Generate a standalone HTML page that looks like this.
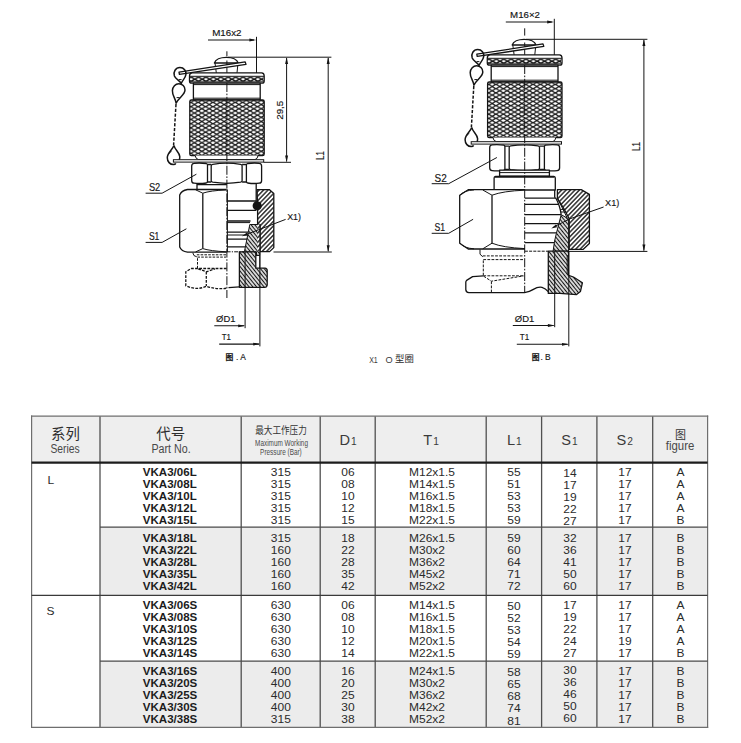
<!DOCTYPE html>
<html lang="zh"><head><meta charset="utf-8"><title>VKA3</title>
<style>
html,body{margin:0;padding:0;background:#fff;}
body{width:741px;height:743px;position:relative;overflow:hidden;font-family:"Liberation Sans","Noto Sans CJK SC",sans-serif;color:#222;}
#draw{position:absolute;left:0;top:0;width:741px;height:400px;}
#tbl{position:absolute;left:0;top:0;width:741px;height:743px;}
#tsvg{position:absolute;left:0;top:0;}
.bg,.ln{position:absolute;}
.t{position:absolute;width:200px;height:24px;line-height:24px;text-align:center;white-space:nowrap;}
.t span{display:inline-block;vertical-align:baseline;transform-origin:50% 50%;}
.t.l{text-align:left;width:120px;}
.t.l span{transform-origin:0 50%;}
.b{font-size:10.6px;color:#2b2b2b;}
.b span{transform:scaleX(1.13);}
.bold{font-weight:bold;color:#1c1c1c;}
.bold span{transform:scaleX(1.09);}
.hc{font-size:14.4px;color:#2e2e2e;font-family:"Noto Sans CJK SC","Liberation Sans",sans-serif;font-weight:400;}
.hc2{font-size:10px;color:#333;font-family:"Noto Sans CJK SC","Liberation Sans",sans-serif;}
.hc2 span{transform:scaleX(0.86);}
.hc3{font-size:11px;color:#333;font-family:"Noto Sans CJK SC","Liberation Sans",sans-serif;}
.he{font-size:12px;color:#484848;}
.he span{transform:scaleX(var(--sx,0.9));}
.hs{font-size:8.6px;color:#4a4a4a;}
.hs span{transform:scaleX(0.745);}
.hd{font-size:14.6px;color:#3a3a3a;}
.hd i{font-style:normal;font-size:10.2px;margin-left:1px;}
</style></head><body>
<svg id="draw" width="741" height="400" viewBox="0 0 741 400">
<defs>
<pattern id="kn" width="7.42" height="4.25" patternUnits="userSpaceOnUse" x="190.7" y="102.4">
<rect width="7.42" height="4.25" fill="#fff"/>
<path d="M-1,-0.573 L8.42,4.823 M-1,4.823 L8.42,-0.573" stroke="#141414" stroke-width="1.28"/>
</pattern>
<pattern id="kn2" width="7.42" height="4.25" patternUnits="userSpaceOnUse" x="194.8" y="79.2">
<rect width="7.42" height="4.25" fill="#fff"/>
<path d="M-1,-0.573 L8.42,4.823 M-1,4.823 L8.42,-0.573" stroke="#141414" stroke-width="1.4"/>
</pattern>
<pattern id="h1" width="3.2" height="3.2" patternUnits="userSpaceOnUse" patternTransform="rotate(-46)">
<rect width="3.2" height="3.2" fill="#fff"/>
<path d="M0,1.6 H3.2" stroke="#141414" stroke-width="1.3"/>
</pattern>
<pattern id="h2" width="2.9" height="2.9" patternUnits="userSpaceOnUse" patternTransform="rotate(51)">
<rect width="2.9" height="2.9" fill="#fff"/>
<path d="M0,1.45 H2.9" stroke="#141414" stroke-width="1.3"/>
</pattern>
</defs>
<style>
#draw .mn{stroke:#141414;stroke-width:1.3;fill:none;stroke-linejoin:round}
#draw .md{stroke:#141414;stroke-width:1.0;fill:none}
#draw .th{stroke:#141414;stroke-width:1.0;fill:none}
#draw .w{fill:#fff}
#draw .dm{stroke:#141414;stroke-width:1.05;fill:none}
#draw .rg{stroke:#141414;stroke-width:1.5;fill:none;stroke-linejoin:round}
#draw path[fill], #draw rect[fill]{}
#draw text{font-family:"Liberation Sans","Noto Sans CJK SC",sans-serif;fill:#151515;stroke:#151515;stroke-width:0.15}
#draw text.cj{font-family:"Liberation Sans","Noto Sans CJK SC",sans-serif}
</style>
<line x1="208" y1="40" x2="254" y2="40" class="dm"/>
<polygon points="256.3,40 249.4,38.6 249.4,41.4" fill="#141414"/>
<line x1="256.5" y1="36.8" x2="256.5" y2="76.2" class="md"/>
<path d="M214.4,63 C215.4,59.6 220.4,57.4 226.3,57.4 C232.2,57.4 237.2,59.6 238.2,63 Z" class="mn w"/>
<path d="M215,63 L216.3,72.8 M238,63 L237,72.8 M226.9,60.5 V72.8" class="md"/>
<path d="M192,72.9 H261.6 Q264.2,73.2 264.2,76 V81 Q264.2,83.2 262,83.2 H191.7 Q189.5,83.2 189.5,81 V76 Q189.5,73.2 192,72.9 Z" class="mn w"/>
<rect x="190" y="76.8" width="73.7" height="4.9" fill="url(#kn2)"/>
<path d="M189.8,76.3 H264 M189.8,81.9 H264" class="md"/>
<rect x="193.4" y="83.1" width="66.8" height="16.9" class="mn w"/>
<path d="M193.4,84.6 H260.2 M193.4,98.2 H260.2" class="md"/>
<rect x="189.8" y="100" width="74.4" height="55.6" rx="1.6" style="fill:url(#kn)" class="mn"/>
<path d="M195.2,155.6 Q195.6,159 198.5,159.6 H255 Q257.6,159 258,155.6" class="md w"/>
<rect x="173.4" y="159.7" width="90.3" height="2.4" class="md w"/>
<polygon points="179.0,72.2 245.2,61.9 246,64.4 179.4,74.4" class="mn w"/>
<path d="M181.2,83.6 C180,80.6 175.8,79.6 174.4,76 C173,72 175.6,67.5 179.9,67.5 C184,67.5 186.5,71 185.9,74.6 C185.3,78.4 182.4,80 181.2,83.6 Z" class="rg"/>
<path d="M178.8,79.6 H181.6" class="md"/>
<path d="M176.1,103.2 C175.6,98.6 172.2,95.6 172.4,90.6 C172.6,86.6 175.4,83.8 178.8,83.8 C182.3,83.8 185,86.4 185,90 C185,95 178.6,97.4 176.1,103.2 Z" class="rg"/>
<path d="M176.6,97.6 H179.6" class="md"/>
<line x1="176" y1="104" x2="173.6" y2="145" class="rg" stroke-dasharray="3.2 1.6"/>
<path d="M173.9,145.4 C172.6,150 167.3,152.4 167.3,157.8 C167.3,161.6 170,164.6 173.4,164.6 C174.6,164.6 175.4,164.2 175.8,163.4 M173.9,145.4 C175,150 179.4,152 179.8,156.6 C179.9,158 179.6,159 179.2,159.7" class="rg"/>
<path d="M169.2,153.6 C169.6,152.4 170.4,151.8 171.4,151.6" class="md"/>
<line x1="226.9" y1="51.3" x2="226.9" y2="56.4" class="md"/>
<text x="212.2" y="35.9" font-size="9" textLength="29.3" lengthAdjust="spacingAndGlyphs">M16x2</text>
<path d="M228,57.2 H331.4 M263.7,162.3 H291 M273.5,252 H331.8" class="th"/>
<line x1="286.6" y1="58" x2="286.6" y2="161.5" class="th"/>
<polygon points="286.6,57.3 285.1,64 288.1,64" fill="#141414"/><polygon points="286.6,162.2 285.1,155.5 288.1,155.5" fill="#141414"/>
<line x1="328.2" y1="58" x2="328.2" y2="251.2" class="th"/>
<polygon points="328.2,57.3 326.7,64 329.7,64" fill="#141414"/><polygon points="328.2,251.9 326.7,245.2 329.7,245.2" fill="#141414"/>
<text transform="translate(283.3,119.8) rotate(-90)" font-size="9.2" textLength="19.1" lengthAdjust="spacingAndGlyphs">29,5</text>
<text transform="translate(324.1,160) rotate(-90)" font-size="10.4" textLength="8.8" lengthAdjust="spacingAndGlyphs">L1</text>
<rect x="191.7" y="163.7" width="69.90000000000003" height="19.100000000000012" fill="#fff"/>
<path d="M191.7,166.1 Q191.7,163.5 194.1,163.29999999999998 Q199.6,162.6 206.3,163.5 Q207.5,163.9 207.5,165.1 V181.4 Q207.5,182.6 206.3,183.0 Q199.6,183.9 194.1,183.20000000000002 Q191.7,183.0 191.7,180.4 Z" class="mn w"/>
<path d="M261.6,166.1 Q261.6,163.5 259.20000000000005,163.29999999999998 Q254.0,162.6 247.6,163.5 Q246.4,163.9 246.4,165.1 V181.4 Q246.4,182.6 247.6,183.0 Q254.0,183.9 259.20000000000005,183.20000000000002 Q261.6,183.0 261.6,180.4 Z" class="mn w"/>
<path d="M211.2,165.7 Q211.2,164.7 212.7,164.29999999999998 Q226.64999999999998,162.1 240.6,164.29999999999998 Q242.1,164.7 242.1,165.7 V180.8 Q242.1,181.8 240.6,182.20000000000002 Q226.64999999999998,184.4 212.7,182.20000000000002 Q211.2,181.8 211.2,180.8 Z" class="mn w"/>
<path d="M207.5,164.5 H211.2 M207.5,182.0 H211.2 M242.1,164.5 H246.4 M242.1,182.0 H246.4" class="mn"/>
<path d="M197,183.6 V189.2 M197,184.7 H226.9 M256.2,183.6 V202" class="mn"/>
<path d="M226.6,189.5 H187.5 Q181.4,190.6 179.7,195 V247 Q181.4,251.2 187.5,252.2 H226.6" class="mn w"/>
<path d="M202.8,193.2 V248.6" class="mn"/>
<path d="M195.6,189.8 L202.8,193.2 Q210,190.6 226.6,189.9 M195.6,251.9 L202.8,248.6 Q210,251 226.6,251.8" class="md"/>
<path d="M227.4,189.4 V252" class="md"/>
<path d="M227.4,201 H256.2 M227.4,210.3 H256.2 M227.4,221 H250.5 M227.4,232.2 H248 M227.4,239.2 H247 M227.4,246.9 H245.5" class="mn"/>
<path d="M227.4,222.6 H250 M227.4,235 H247.6" class="th"/>
<path d="M257.1,189.6 H269.2 L273.8,193.6 V247.6 L269.6,251.6 H259.9 V224.5 H257.6 V210 Z" style="fill:url(#h1)" class="mn"/>
<path d="M249.8,224.5 H259.9 V255.4 H256.5 V251.8 H244.4 Z" style="fill:url(#h2)" class="md"/>
<rect x="257.6" y="224.5" width="2.3" height="27" fill="url(#h1)"/>
<circle cx="257.2" cy="205.8" r="4.6" fill="#141414"/>
<path d="M239.4,251.8 H255.8 V268.2 H265 Q267.2,268.4 267.2,270.6 V285.2 Q267,287.2 265,287.3 H239.4 Z" style="fill:url(#h2)" class="mn"/>
<path d="M255.8,255.4 H259.8 V268.2" class="md"/>
<path d="M245.1,252 V328.2 M259.9,224.5 V346.4" class="md"/>
<path d="M214.3,325.8 H244 M219.2,344.1 H259" class="dm"/>
<polygon points="245.2,325.8 238.2,324.4 238.2,327.2" fill="#141414"/><polygon points="260.2,344.1 253.2,342.7 253.2,345.5" fill="#141414"/>
<text x="216.1" y="321.5" font-size="9" textLength="19.3" lengthAdjust="spacingAndGlyphs">ØD1</text>
<text x="221.8" y="339.7" font-size="9" textLength="9.2" lengthAdjust="spacingAndGlyphs">T1</text>
<path d="M226.6,251.8 H244" class="md" stroke-dasharray="4 1.2 1.2 1.2"/>
<path d="M192.8,252.8 L194,255.6 L196.8,256.8" class="md"/>
<path d="M196.8,254.8 H226 M197.4,257.1 H226 M197.5,258.2 V268.2" class="md" stroke-dasharray="2.6 1.2"/>
<path d="M226.6,268.5 H191.2 L185.8,271.8 V285.8 Q197,290.8 206.3,286.2 Q217,289.8 226.6,288.2 M206.3,271.8 V286 M198.2,268.8 L206.3,271.8 L215,268.9" class="mn" stroke-dasharray="2.8 1.3"/>
<path d="M228.5,287.6 L239.4,286.9" class="mn"/>
<path d="M226.9,83 V298" class="md" stroke-dasharray="9 1.6 1.6 1.6"/>
<path d="M145.6,193.2 H162.1 L196.4,174.2 M145.6,242.4 H162.1 L186.4,228.8 M285.6,219.4 L246,234.6" class="md"/>
<polygon points="241.8,236.2 247,232.6 247.8,235.2" fill="#141414"/>
<text x="148.9" y="190.8" font-size="10.2" textLength="11.4" lengthAdjust="spacingAndGlyphs">S2</text>
<text x="148.9" y="240.2" font-size="10.2" textLength="10.5" lengthAdjust="spacingAndGlyphs">S1</text>
<text x="287.2" y="220.4" font-size="9.8" textLength="13.8" lengthAdjust="spacingAndGlyphs">X1)</text>
<text x="225.4" y="359.8" font-size="7.8" font-weight="bold" class="cj">图</text><text x="236" y="360" font-size="8.4">. A</text>
<g transform="translate(297.8,-18)"><line x1="208" y1="40" x2="254" y2="40" class="dm"/>
<polygon points="256.3,40 249.4,38.6 249.4,41.4" fill="#141414"/>
<line x1="256.5" y1="36.8" x2="256.5" y2="76.2" class="md"/>
<path d="M214.4,63 C215.4,59.6 220.4,57.4 226.3,57.4 C232.2,57.4 237.2,59.6 238.2,63 Z" class="mn w"/>
<path d="M215,63 L216.3,72.8 M238,63 L237,72.8 M226.9,60.5 V72.8" class="md"/>
<path d="M192,72.9 H261.6 Q264.2,73.2 264.2,76 V81 Q264.2,83.2 262,83.2 H191.7 Q189.5,83.2 189.5,81 V76 Q189.5,73.2 192,72.9 Z" class="mn w"/>
<rect x="190" y="76.8" width="73.7" height="4.9" fill="url(#kn2)"/>
<path d="M189.8,76.3 H264 M189.8,81.9 H264" class="md"/>
<rect x="193.4" y="83.1" width="66.8" height="16.9" class="mn w"/>
<path d="M193.4,84.6 H260.2 M193.4,98.2 H260.2" class="md"/>
<rect x="189.8" y="100" width="74.4" height="55.6" rx="1.6" style="fill:url(#kn)" class="mn"/>
<path d="M195.2,155.6 Q195.6,159 198.5,159.6 H255 Q257.6,159 258,155.6" class="md w"/>
<rect x="173.4" y="159.7" width="90.3" height="2.4" class="md w"/>
<polygon points="179.0,72.2 245.2,61.9 246,64.4 179.4,74.4" class="mn w"/>
<path d="M181.2,83.6 C180,80.6 175.8,79.6 174.4,76 C173,72 175.6,67.5 179.9,67.5 C184,67.5 186.5,71 185.9,74.6 C185.3,78.4 182.4,80 181.2,83.6 Z" class="rg"/>
<path d="M178.8,79.6 H181.6" class="md"/>
<path d="M176.1,103.2 C175.6,98.6 172.2,95.6 172.4,90.6 C172.6,86.6 175.4,83.8 178.8,83.8 C182.3,83.8 185,86.4 185,90 C185,95 178.6,97.4 176.1,103.2 Z" class="rg"/>
<path d="M176.6,97.6 H179.6" class="md"/>
<line x1="176" y1="104" x2="173.6" y2="145" class="rg" stroke-dasharray="3.2 1.6"/>
<path d="M173.9,145.4 C172.6,150 167.3,152.4 167.3,157.8 C167.3,161.6 170,164.6 173.4,164.6 C174.6,164.6 175.4,164.2 175.8,163.4 M173.9,145.4 C175,150 179.4,152 179.8,156.6 C179.9,158 179.6,159 179.2,159.7" class="rg"/>
<path d="M169.2,153.6 C169.6,152.4 170.4,151.8 171.4,151.6" class="md"/></g>
<line x1="524.7" y1="28.3" x2="524.7" y2="35.6" class="md"/>
<text x="510.1" y="17.8" font-size="9" textLength="29.9" lengthAdjust="spacingAndGlyphs">M16×2</text>
<path d="M526,39.3 H647.4 M568,251.4 H647.4" class="th"/>
<line x1="643.9" y1="40" x2="643.9" y2="250.6" class="th"/>
<polygon points="643.9,39.4 642.4,46.1 645.4,46.1" fill="#141414"/><polygon points="643.9,251.3 642.4,244.6 645.4,244.6" fill="#141414"/>
<text transform="translate(640.1,151.1) rotate(-90)" font-size="10.4" textLength="9.2" lengthAdjust="spacingAndGlyphs">L1</text>
<rect x="489.7" y="145.29999999999998" width="69.90000000000003" height="24.900000000000023" fill="#fff"/>
<path d="M489.7,147.7 Q489.7,145.1 492.09999999999997,144.89999999999998 Q497.29999999999995,144.2 503.7,145.1 Q504.9,145.5 504.9,146.7 V168.8 Q504.9,170.0 503.7,170.4 Q497.29999999999995,171.3 492.09999999999997,170.60000000000002 Q489.7,170.4 489.7,167.8 Z" class="mn w"/>
<path d="M559.6,147.7 Q559.6,145.1 557.2,144.89999999999998 Q552.0,144.2 545.6,145.1 Q544.4,145.5 544.4,146.7 V168.8 Q544.4,170.0 545.6,170.4 Q552.0,171.3 557.2,170.60000000000002 Q559.6,170.4 559.6,167.8 Z" class="mn w"/>
<path d="M509.2,147.29999999999998 Q509.2,146.29999999999998 510.7,145.89999999999998 Q524.35,143.7 538.0,145.89999999999998 Q539.5,146.29999999999998 539.5,147.29999999999998 V168.20000000000002 Q539.5,169.20000000000002 538.0,169.60000000000002 Q524.35,171.8 510.7,169.60000000000002 Q509.2,169.20000000000002 509.2,168.20000000000002 Z" class="mn w"/>
<path d="M504.9,146.1 H509.2 M504.9,169.4 H509.2 M539.5,146.1 H544.4 M539.5,169.4 H544.4" class="mn"/>
<rect x="499.6" y="170.2" width="49.8" height="6" class="mn w"/>
<path d="M499.6,172.6 H549.4" class="md"/>
<path d="M495.6,176.4 H553.8 Q555.3,176.6 555.3,178 V190 H494.1 V178 Q494.1,176.6 495.6,176.4 Z" class="mn w"/>
<path d="M495,176.9 H554.4" stroke="#141414" stroke-width="1.8" fill="none"/>
<path d="M524.9,189.7 H468.2 L459.7,195.2 V243.2 L468.2,249 H524.9" class="mn w" />
<path d="M492,195.2 V243.2" class="mn"/>
<path d="M482.8,190 L492,195.2 Q503,191 524.9,190.2 M482.8,248.8 L492,243.2 Q503,247.6 524.9,248.6 M460,195.2 Q464,190.4 474,189.9 M460,243.2 Q464,248.2 474,248.8" class="md"/>
<path d="M524.9,198.2 H556 M524.9,204.3 H558.8 M524.9,214.6 H561 M524.9,223.7 H558.8 M524.9,232.8 H556.4 M524.9,242.6 H554.4" class="mn"/>
<path d="M554.7,190 V197.8 M555.6,197.8 Q560,205.6 561.2,214.7" class="mn"/>
<path d="M557.4,189.6 H581.2 L589.4,194.4 V243.6 L583,249.4 H569.2 V218.8 Q564,208 557.4,198.4 Z" style="fill:url(#h1)" class="mn"/>
<path d="M561.2,214.7 L568.6,218.8 V251.2 H553.1 Q554.4,240 556.4,233.3 Q558.8,224 561.2,214.7 Z" style="fill:url(#h2)" class="md"/>
<path d="M557.4,198.4 Q562.5,208 567,217.6 M560.4,209.4 H564.2 M561,212 H565.6" class="md"/>
<path d="M548.3,251.2 H568.6 V275.4 L573.4,277 L582.4,282.8 L580.4,291.6 L576.6,294.6 L560,293.4 H548.3 Z" style="fill:url(#h2)" class="mn"/>
<path d="M567.2,255 V274 " class="md" stroke="#fff"/>
<path d="M554.7,251.4 V327.2 M568.8,252 V346.4" class="md"/>
<path d="M512.8,325.5 H553.6 M516.8,344.3 H567.6" class="dm"/>
<polygon points="554.9,325.5 547.9,324.1 547.9,326.9" fill="#141414"/><polygon points="569,344.3 562,342.9 562,345.7" fill="#141414"/>
<text x="514.8" y="321.6" font-size="9" textLength="19.4" lengthAdjust="spacingAndGlyphs">ØD1</text>
<text x="519.8" y="339.7" font-size="9" textLength="9.4" lengthAdjust="spacingAndGlyphs">T1</text>
<path d="M524.9,251.2 H548" class="md" stroke-dasharray="3 1.2"/>
<path d="M480,249.4 V254.2 L482.8,256.8" class="md"/>
<path d="M482.8,255.9 H523.8 M483.3,259.6 H523.8 M483.3,260.4 V275.6 M483.3,275.8 H523.8 M483.6,276.2 L491.4,281.2 L523.6,275.9 M491.4,281.4 V292.4" class="md" stroke-dasharray="2.8 1.3"/>
<path d="M483.3,275.8 L472.6,276.6 L466.6,280.4 Q465.8,281 465.8,282.2 V289.6 Q466,292.4 468.8,292.6 H524.5 Q529.6,291.8 533.4,289.4 Q538,286.6 542,287.4 Q545.6,288.4 548.2,291.6" class="mn"/>
<path d="M524.7,65 V292" class="md" stroke-dasharray="9 1.6 1.6 1.6"/>
<path d="M431.7,183.7 H448.7 L496.9,157.5 M431.7,233.3 H448.7 L473.1,219.3 M603.6,207 L570,218.8 L553.6,227" class="md"/>
<polygon points="551.2,228.4 556,224.6 557,227.2" fill="#141414"/>
<text x="434.6" y="181.5" font-size="10.2" textLength="12.2" lengthAdjust="spacingAndGlyphs">S2</text>
<text x="434.6" y="230.7" font-size="10.2" textLength="10.6" lengthAdjust="spacingAndGlyphs">S1</text>
<text x="605.1" y="206.1" font-size="9.8" textLength="14.3" lengthAdjust="spacingAndGlyphs">X1)</text>
<text x="531.8" y="360.2" font-size="7.8" font-weight="bold" class="cj">图</text><text x="540.4" y="360.4" font-size="8.4">. B</text>
<text x="369.2" y="362.5" font-size="9.2" style="fill:#3a3a3a;stroke:none" textLength="8.6" lengthAdjust="spacingAndGlyphs">X1</text><text x="385.5" y="362.5" font-size="9.2" style="fill:#3a3a3a;stroke:none">O</text><text x="395.1" y="362.3" font-size="9.4" class="cj" style="fill:#2a2a2a;stroke:none">型圈</text>
</svg>
<div id="tbl">
<svg id="tsvg" width="741" height="743" viewBox="0 0 741 743">
<rect x="31.6" y="416.2" width="676" height="46.5" fill="#eeeeee"/>
<rect x="100" y="527.2" width="607.6" height="68.1" fill="#ececec"/>
<rect x="100" y="661.2" width="607.6" height="66.2" fill="#ececec"/>
<line x1="31.6" y1="415.6" x2="31.6" y2="728" stroke="#6e6e6e" stroke-width="1.2"/>
<line x1="100.0" y1="416.2" x2="100.0" y2="727.4" stroke="#505050" stroke-width="1.3"/>
<line x1="241.2" y1="416.2" x2="241.2" y2="727.4" stroke="#505050" stroke-width="1.3"/>
<line x1="320.2" y1="416.2" x2="320.2" y2="727.4" stroke="#505050" stroke-width="1.3"/>
<line x1="375.2" y1="416.2" x2="375.2" y2="727.4" stroke="#505050" stroke-width="1.3"/>
<line x1="486.2" y1="416.2" x2="486.2" y2="727.4" stroke="#505050" stroke-width="1.3"/>
<line x1="541.6" y1="416.2" x2="541.6" y2="727.4" stroke="#505050" stroke-width="1.3"/>
<line x1="596.9" y1="416.2" x2="596.9" y2="727.4" stroke="#505050" stroke-width="1.3"/>
<line x1="652.7" y1="416.2" x2="652.7" y2="727.4" stroke="#505050" stroke-width="1.3"/>
<line x1="707.6" y1="415.6" x2="707.6" y2="728" stroke="#6e6e6e" stroke-width="1.2"/>
<line x1="31" y1="416.2" x2="708.2" y2="416.2" stroke="#6e6e6e" stroke-width="1.2"/>
<line x1="31" y1="727.4" x2="708.2" y2="727.4" stroke="#6e6e6e" stroke-width="1.2"/>
<line x1="31.6" y1="462.7" x2="707.6" y2="462.7" stroke="#1c1c1c" stroke-width="2.3"/>
<line x1="100" y1="527.2" x2="707.6" y2="527.2" stroke="#4a4a4a" stroke-width="1.2"/>
<line x1="31.6" y1="595.3" x2="707.6" y2="595.3" stroke="#3a3a3a" stroke-width="1.2"/>
<line x1="100" y1="661.2" x2="707.6" y2="661.2" stroke="#4a4a4a" stroke-width="1.2"/>
</svg>
<div class="t hc" style="left:-34.5px;top:421.22px;"><span>系列</span></div>
<div class="t he" style="left:-34.8px;top:437.04px;--sx:0.86"><span>Series</span></div>
<div class="t hc" style="left:70.7px;top:421.22px;"><span>代号</span></div>
<div class="t he" style="left:71px;top:437.04px;--sx:0.89"><span>Part No.</span></div>
<div class="t hc2" style="left:181px;top:418.24px;"><span>最大工作压力</span></div>
<div class="t hs" style="left:181px;top:431.42px;"><span>Maximum Working</span></div>
<div class="t hs" style="left:181px;top:440.02px;"><span>Pressure (Bar)</span></div>
<div class="t hd" style="left:248px;top:428.04px"><span>D<i>1</i></span></div>
<div class="t hd" style="left:331px;top:428.04px"><span>T<i>1</i></span></div>
<div class="t hd" style="left:414.29999999999995px;top:428.04px"><span>L<i>1</i></span></div>
<div class="t hd" style="left:469.5px;top:428.04px"><span>S<i>1</i></span></div>
<div class="t hd" style="left:524.8px;top:428.04px"><span>S<i>2</i></span></div>
<div class="t hc3" style="left:580.5px;top:421.8px;"><span>图</span></div>
<div class="t he" style="left:580.2px;top:434.24px;--sx:0.95"><span>figure</span></div>
<div class="t b" style="left:-49.4px;top:467.93px;"><span>L</span></div>
<div class="t b" style="left:-49.2px;top:598.93px;"><span>S</span></div>
<div class="t b bold" style="left:69.8px;top:459.93px;"><span>VKA3/06L</span></div>
<div class="t b" style="left:181.2px;top:459.93px;"><span>315</span></div>
<div class="t b" style="left:247.8px;top:459.93px;"><span>06</span></div>
<div class="t b l" style="left:408.6px;top:459.93px"><span>M12x1.5</span></div>
<div class="t b" style="left:414px;top:459.93px;"><span>55</span></div>
<div class="t b" style="left:469.5px;top:460.53px;"><span>14</span></div>
<div class="t b" style="left:524.8px;top:459.93px;"><span>17</span></div>
<div class="t b" style="left:580.3px;top:459.93px;"><span>A</span></div>
<div class="t b bold" style="left:69.8px;top:471.93px;"><span>VKA3/08L</span></div>
<div class="t b" style="left:181.2px;top:471.93px;"><span>315</span></div>
<div class="t b" style="left:247.8px;top:471.93px;"><span>08</span></div>
<div class="t b l" style="left:408.6px;top:471.93px"><span>M14x1.5</span></div>
<div class="t b" style="left:414px;top:471.93px;"><span>51</span></div>
<div class="t b" style="left:469.5px;top:472.53px;"><span>17</span></div>
<div class="t b" style="left:524.8px;top:471.93px;"><span>17</span></div>
<div class="t b" style="left:580.3px;top:471.93px;"><span>A</span></div>
<div class="t b bold" style="left:69.8px;top:483.93px;"><span>VKA3/10L</span></div>
<div class="t b" style="left:181.2px;top:483.93px;"><span>315</span></div>
<div class="t b" style="left:247.8px;top:483.93px;"><span>10</span></div>
<div class="t b l" style="left:408.6px;top:483.93px"><span>M16x1.5</span></div>
<div class="t b" style="left:414px;top:483.93px;"><span>53</span></div>
<div class="t b" style="left:469.5px;top:484.53px;"><span>19</span></div>
<div class="t b" style="left:524.8px;top:483.93px;"><span>17</span></div>
<div class="t b" style="left:580.3px;top:483.93px;"><span>A</span></div>
<div class="t b bold" style="left:69.8px;top:495.93px;"><span>VKA3/12L</span></div>
<div class="t b" style="left:181.2px;top:495.93px;"><span>315</span></div>
<div class="t b" style="left:247.8px;top:495.93px;"><span>12</span></div>
<div class="t b l" style="left:408.6px;top:495.93px"><span>M18x1.5</span></div>
<div class="t b" style="left:414px;top:495.93px;"><span>53</span></div>
<div class="t b" style="left:469.5px;top:496.53px;"><span>22</span></div>
<div class="t b" style="left:524.8px;top:495.93px;"><span>17</span></div>
<div class="t b" style="left:580.3px;top:495.93px;"><span>A</span></div>
<div class="t b bold" style="left:69.8px;top:507.93px;"><span>VKA3/15L</span></div>
<div class="t b" style="left:181.2px;top:507.93px;"><span>315</span></div>
<div class="t b" style="left:247.8px;top:507.93px;"><span>15</span></div>
<div class="t b l" style="left:408.6px;top:507.93px"><span>M22x1.5</span></div>
<div class="t b" style="left:414px;top:507.93px;"><span>59</span></div>
<div class="t b" style="left:469.5px;top:508.53px;"><span>27</span></div>
<div class="t b" style="left:524.8px;top:507.93px;"><span>17</span></div>
<div class="t b" style="left:580.3px;top:507.93px;"><span>B</span></div>
<div class="t b bold" style="left:69.8px;top:525.63px;"><span>VKA3/18L</span></div>
<div class="t b" style="left:181.2px;top:525.63px;"><span>315</span></div>
<div class="t b" style="left:247.8px;top:525.63px;"><span>18</span></div>
<div class="t b l" style="left:408.6px;top:525.63px"><span>M26x1.5</span></div>
<div class="t b" style="left:414px;top:525.63px;"><span>59</span></div>
<div class="t b" style="left:469.5px;top:525.63px;"><span>32</span></div>
<div class="t b" style="left:524.8px;top:525.63px;"><span>17</span></div>
<div class="t b" style="left:580.3px;top:525.63px;"><span>B</span></div>
<div class="t b bold" style="left:69.8px;top:537.63px;"><span>VKA3/22L</span></div>
<div class="t b" style="left:181.2px;top:537.63px;"><span>160</span></div>
<div class="t b" style="left:247.8px;top:537.63px;"><span>22</span></div>
<div class="t b l" style="left:408.6px;top:537.63px"><span>M30x2</span></div>
<div class="t b" style="left:414px;top:537.63px;"><span>60</span></div>
<div class="t b" style="left:469.5px;top:537.63px;"><span>36</span></div>
<div class="t b" style="left:524.8px;top:537.63px;"><span>17</span></div>
<div class="t b" style="left:580.3px;top:537.63px;"><span>B</span></div>
<div class="t b bold" style="left:69.8px;top:549.63px;"><span>VKA3/28L</span></div>
<div class="t b" style="left:181.2px;top:549.63px;"><span>160</span></div>
<div class="t b" style="left:247.8px;top:549.63px;"><span>28</span></div>
<div class="t b l" style="left:408.6px;top:549.63px"><span>M36x2</span></div>
<div class="t b" style="left:414px;top:549.63px;"><span>64</span></div>
<div class="t b" style="left:469.5px;top:549.63px;"><span>41</span></div>
<div class="t b" style="left:524.8px;top:549.63px;"><span>17</span></div>
<div class="t b" style="left:580.3px;top:549.63px;"><span>B</span></div>
<div class="t b bold" style="left:69.8px;top:561.63px;"><span>VKA3/35L</span></div>
<div class="t b" style="left:181.2px;top:561.63px;"><span>160</span></div>
<div class="t b" style="left:247.8px;top:561.63px;"><span>35</span></div>
<div class="t b l" style="left:408.6px;top:561.63px"><span>M45x2</span></div>
<div class="t b" style="left:414px;top:561.63px;"><span>71</span></div>
<div class="t b" style="left:469.5px;top:561.63px;"><span>50</span></div>
<div class="t b" style="left:524.8px;top:561.63px;"><span>17</span></div>
<div class="t b" style="left:580.3px;top:561.63px;"><span>B</span></div>
<div class="t b bold" style="left:69.8px;top:573.63px;"><span>VKA3/42L</span></div>
<div class="t b" style="left:181.2px;top:573.63px;"><span>160</span></div>
<div class="t b" style="left:247.8px;top:573.63px;"><span>42</span></div>
<div class="t b l" style="left:408.6px;top:573.63px"><span>M52x2</span></div>
<div class="t b" style="left:414px;top:573.63px;"><span>72</span></div>
<div class="t b" style="left:469.5px;top:573.63px;"><span>60</span></div>
<div class="t b" style="left:524.8px;top:573.63px;"><span>17</span></div>
<div class="t b" style="left:580.3px;top:573.63px;"><span>B</span></div>
<div class="t b bold" style="left:69.8px;top:592.73px;"><span>VKA3/06S</span></div>
<div class="t b" style="left:181.2px;top:592.73px;"><span>630</span></div>
<div class="t b" style="left:247.8px;top:592.73px;"><span>06</span></div>
<div class="t b l" style="left:408.6px;top:592.73px"><span>M14x1.5</span></div>
<div class="t b" style="left:414px;top:593.83px;"><span>50</span></div>
<div class="t b" style="left:469.5px;top:592.73px;"><span>17</span></div>
<div class="t b" style="left:524.8px;top:592.73px;"><span>17</span></div>
<div class="t b" style="left:580.3px;top:592.73px;"><span>A</span></div>
<div class="t b bold" style="left:69.8px;top:604.73px;"><span>VKA3/08S</span></div>
<div class="t b" style="left:181.2px;top:604.73px;"><span>630</span></div>
<div class="t b" style="left:247.8px;top:604.73px;"><span>08</span></div>
<div class="t b l" style="left:408.6px;top:604.73px"><span>M16x1.5</span></div>
<div class="t b" style="left:414px;top:605.83px;"><span>52</span></div>
<div class="t b" style="left:469.5px;top:604.73px;"><span>19</span></div>
<div class="t b" style="left:524.8px;top:604.73px;"><span>17</span></div>
<div class="t b" style="left:580.3px;top:604.73px;"><span>A</span></div>
<div class="t b bold" style="left:69.8px;top:616.73px;"><span>VKA3/10S</span></div>
<div class="t b" style="left:181.2px;top:616.73px;"><span>630</span></div>
<div class="t b" style="left:247.8px;top:616.73px;"><span>10</span></div>
<div class="t b l" style="left:408.6px;top:616.73px"><span>M18x1.5</span></div>
<div class="t b" style="left:414px;top:617.83px;"><span>53</span></div>
<div class="t b" style="left:469.5px;top:616.73px;"><span>22</span></div>
<div class="t b" style="left:524.8px;top:616.73px;"><span>17</span></div>
<div class="t b" style="left:580.3px;top:616.73px;"><span>A</span></div>
<div class="t b bold" style="left:69.8px;top:628.73px;"><span>VKA3/12S</span></div>
<div class="t b" style="left:181.2px;top:628.73px;"><span>630</span></div>
<div class="t b" style="left:247.8px;top:628.73px;"><span>12</span></div>
<div class="t b l" style="left:408.6px;top:628.73px"><span>M20x1.5</span></div>
<div class="t b" style="left:414px;top:629.83px;"><span>54</span></div>
<div class="t b" style="left:469.5px;top:628.73px;"><span>24</span></div>
<div class="t b" style="left:524.8px;top:628.73px;"><span>19</span></div>
<div class="t b" style="left:580.3px;top:628.73px;"><span>A</span></div>
<div class="t b bold" style="left:69.8px;top:640.73px;"><span>VKA3/14S</span></div>
<div class="t b" style="left:181.2px;top:640.73px;"><span>630</span></div>
<div class="t b" style="left:247.8px;top:640.73px;"><span>14</span></div>
<div class="t b l" style="left:408.6px;top:640.73px"><span>M22x1.5</span></div>
<div class="t b" style="left:414px;top:641.83px;"><span>59</span></div>
<div class="t b" style="left:469.5px;top:640.73px;"><span>27</span></div>
<div class="t b" style="left:524.8px;top:640.73px;"><span>17</span></div>
<div class="t b" style="left:580.3px;top:640.73px;"><span>B</span></div>
<div class="t b bold" style="left:69.8px;top:659.23px;"><span>VKA3/16S</span></div>
<div class="t b" style="left:181.2px;top:659.23px;"><span>400</span></div>
<div class="t b" style="left:247.8px;top:659.23px;"><span>16</span></div>
<div class="t b l" style="left:408.6px;top:659.23px"><span>M24x1.5</span></div>
<div class="t b" style="left:414px;top:659.83px;"><span>58</span></div>
<div class="t b" style="left:469.5px;top:658.43px;"><span>30</span></div>
<div class="t b" style="left:524.8px;top:659.23px;"><span>17</span></div>
<div class="t b" style="left:580.3px;top:659.23px;"><span>B</span></div>
<div class="t b bold" style="left:69.8px;top:671.23px;"><span>VKA3/20S</span></div>
<div class="t b" style="left:181.2px;top:671.23px;"><span>400</span></div>
<div class="t b" style="left:247.8px;top:671.23px;"><span>20</span></div>
<div class="t b l" style="left:408.6px;top:671.23px"><span>M30x2</span></div>
<div class="t b" style="left:414px;top:672.05px;"><span>65</span></div>
<div class="t b" style="left:469.5px;top:670.43px;"><span>36</span></div>
<div class="t b" style="left:524.8px;top:671.23px;"><span>17</span></div>
<div class="t b" style="left:580.3px;top:671.23px;"><span>B</span></div>
<div class="t b bold" style="left:69.8px;top:683.23px;"><span>VKA3/25S</span></div>
<div class="t b" style="left:181.2px;top:683.23px;"><span>400</span></div>
<div class="t b" style="left:247.8px;top:683.23px;"><span>25</span></div>
<div class="t b l" style="left:408.6px;top:683.23px"><span>M36x2</span></div>
<div class="t b" style="left:414px;top:684.27px;"><span>68</span></div>
<div class="t b" style="left:469.5px;top:682.43px;"><span>46</span></div>
<div class="t b" style="left:524.8px;top:683.23px;"><span>17</span></div>
<div class="t b" style="left:580.3px;top:683.23px;"><span>B</span></div>
<div class="t b bold" style="left:69.8px;top:695.23px;"><span>VKA3/30S</span></div>
<div class="t b" style="left:181.2px;top:695.23px;"><span>400</span></div>
<div class="t b" style="left:247.8px;top:695.23px;"><span>30</span></div>
<div class="t b l" style="left:408.6px;top:695.23px"><span>M42x2</span></div>
<div class="t b" style="left:414px;top:696.49px;"><span>74</span></div>
<div class="t b" style="left:469.5px;top:694.43px;"><span>50</span></div>
<div class="t b" style="left:524.8px;top:695.23px;"><span>17</span></div>
<div class="t b" style="left:580.3px;top:695.23px;"><span>B</span></div>
<div class="t b bold" style="left:69.8px;top:707.23px;"><span>VKA3/38S</span></div>
<div class="t b" style="left:181.2px;top:707.23px;"><span>315</span></div>
<div class="t b" style="left:247.8px;top:707.23px;"><span>38</span></div>
<div class="t b l" style="left:408.6px;top:707.23px"><span>M52x2</span></div>
<div class="t b" style="left:414px;top:708.71px;"><span>81</span></div>
<div class="t b" style="left:469.5px;top:706.43px;"><span>60</span></div>
<div class="t b" style="left:524.8px;top:707.23px;"><span>17</span></div>
<div class="t b" style="left:580.3px;top:707.23px;"><span>B</span></div>
</div>
</body></html>
